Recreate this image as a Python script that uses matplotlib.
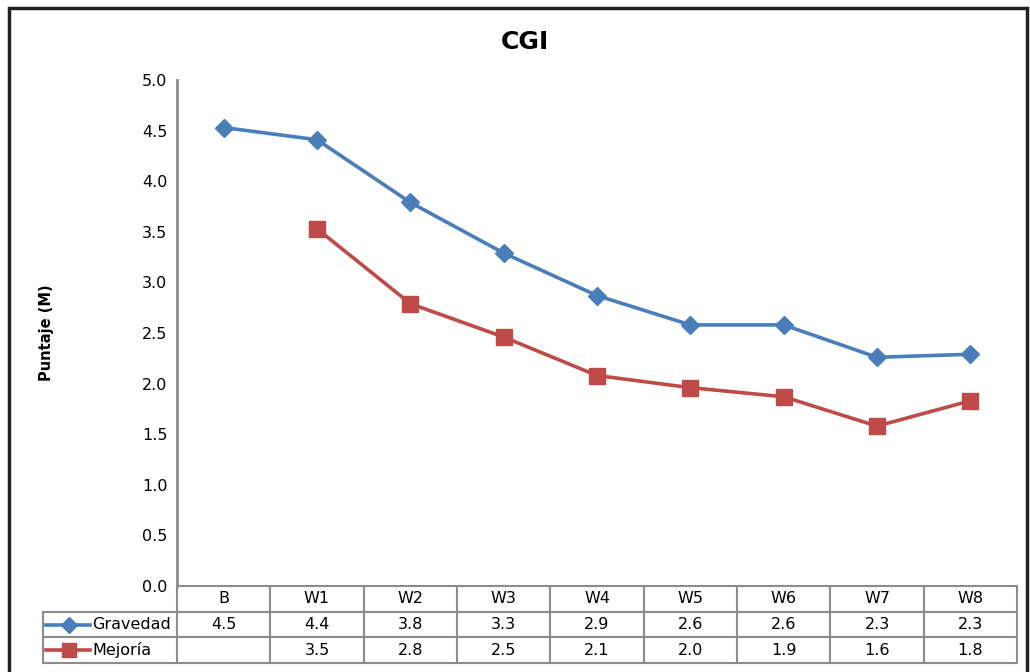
import matplotlib.pyplot as plt
from matplotlib.lines import Line2D
from matplotlib.patches import Rectangle

semanas = ['B', 'W1', 'W2', 'W3', 'W4', 'W5', 'W6', 'W7', 'W8']
gravedad = [4.53, 4.41, 3.79, 3.29, 2.87, 2.58, 2.58, 2.26, 2.29]
mejoria = [None, 3.53, 2.79, 2.46, 2.08, 1.96, 1.87, 1.58, 1.83]

azul = '#4a7ebb'
rojo = '#be4b48'
gris = '#8c8c8c'

plt.rcParams['font.family'] = 'DejaVu Sans'

fig = plt.figure(figsize=(10.3, 6.72), dpi=100)
ax = fig.add_axes([177 / 1030, 86 / 672, 840 / 1030, 506 / 672])

x = list(range(len(semanas)))
ax.plot(x, gravedad, color=azul, lw=2.6, marker='D', ms=9, label='Gravedad')
xm = [i for i, v in zip(x, mejoria) if v is not None]
ym = [v for v in mejoria if v is not None]
ax.plot(xm, ym, color=rojo, lw=2.6, marker='s', ms=11, label='Mejoría')

ax.set_xlim(-0.5, len(semanas) - 0.5)
ax.set_ylim(0, 5)
ax.set_yticks([i * 0.5 for i in range(11)])
ax.set_yticklabels(['%.1f' % (i * 0.5) for i in range(11)], fontsize=11.5)
ax.tick_params(axis='y', length=0, pad=7)
ax.set_xticks([])
for s in ['top', 'right', 'bottom']:
    ax.spines[s].set_visible(False)
ax.spines['left'].set_color(gris)
ax.spines['left'].set_linewidth(2)

fig.text(525 / 1030, 1 - 42 / 672, 'CGI', fontsize=18, fontweight='bold',
         ha='center', va='center')
fig.text(47 / 1030, 1 - 333 / 672, 'Puntaje (M)', fontsize=10.5,
         fontweight='bold', family='Liberation Sans Narrow',
         rotation=90, ha='center', va='center')

# tabla de datos bajo el eje
fila_g = ['Gravedad'] + ['%.1f' % v for v in gravedad]
fila_m = ['Mejoría'] + ['' if v is None else '%.1f' % v for v in mejoria]
ancho_lbl = 134 / 840
h = 77 / 506
tabla = ax.table(cellText=[fila_g, fila_m], colLabels=[''] + semanas,
                 cellLoc='center', colWidths=[ancho_lbl] + [1 / 9] * 9,
                 bbox=[-ancho_lbl, -h, 1 + ancho_lbl, h])
tabla.auto_set_font_size(False)
for (r, c), cell in tabla.get_celld().items():
    cell.set_edgecolor(gris)
    cell.set_linewidth(1.5)
    cell.get_text().set_fontsize(11.5)
    if c == 0:
        cell.get_text().set_ha('left')
        cell._loc = 'left'
        cell.PAD = 0.37
    if r == 0 and c == 0:
        cell.visible_edges = 'B'

# claves de la leyenda dentro de la tabla
for fila, col, mk, ms in [(1, azul, 'D', 8), (2, rojo, 's', 10)]:
    yc = -h + h * (3 - fila - 0.5) / 3
    ax.add_line(Line2D([-ancho_lbl + 0.004, -ancho_lbl + 0.056], [yc, yc],
                       color=col, lw=2.6, clip_on=False,
                       transform=ax.transAxes))
    ax.add_line(Line2D([-ancho_lbl + 0.031], [yc], marker=mk, ms=ms,
                       color=col, clip_on=False, transform=ax.transAxes))

# marco exterior
fig.add_artist(Rectangle((9 / 1030, -0.02), 1018 / 1030, 1 - 8 / 672 + 0.02,
                         transform=fig.transFigure, fill=False,
                         edgecolor='#222222', lw=2.5))

fig.savefig('out.png', dpi=100)
